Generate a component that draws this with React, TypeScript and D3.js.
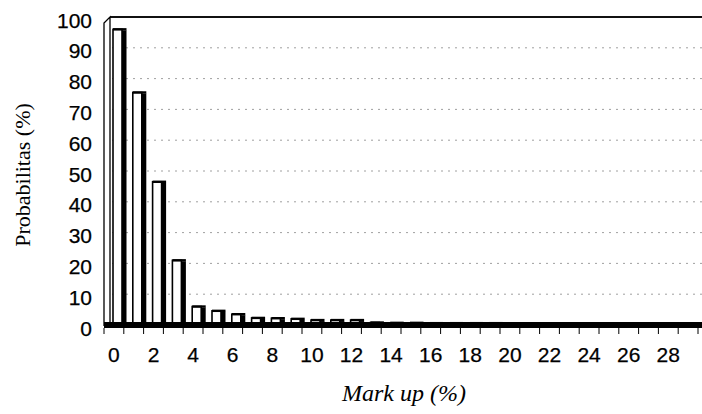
import React from "react";
import * as d3 from "d3";

const categories: number[] = d3.range(0, 30);
const probabilities: number[] = [
  96, 75.5, 46.5, 21, 6, 4.6, 3.5, 2.3, 2.2, 2, 1.6, 1.6, 1.6,
  0.8, 0.7, 0.7, 0.6, 0.6, 0.6, 0.6, 0.5, 0.5, 0.5, 0.5, 0.5, 0.5, 0.5, 0.5, 0.5, 0.5,
];
const yTicks: number[] = [0, 10, 20, 30, 40, 50, 60, 70, 80, 90, 100];
const xTickLabels: number[] = d3.range(0, 30, 2);

const W = 702;
const H = 414;

export default function App() {
  const x = d3.scaleBand<number>().domain(categories).range([104, 698]).paddingInner(0).paddingOuter(0);
  const y = d3.scaleLinear().domain([0, 100]).range([325, 17]);
  const step = x.step();
  const sans = "'Liberation Sans', Arial, sans-serif";
  const serif = "'Liberation Serif', 'Times New Roman', serif";

  return (
    <svg width={W} height={H} style={{ position: "absolute", left: 0, top: 0, background: "#fff" }}>
      <rect x={0} y={0} width={W} height={H} fill="#fff" />
      {/* gridlines */}
      {yTicks.filter((t) => t > 0 && t < 100).map((t) => (
        <line key={"g" + t} x1={112} x2={W} y1={y(t)} y2={y(t)} stroke="#888" strokeWidth={0.8} strokeDasharray="2 5" />
      ))}
      {/* top border */}
      <line x1={110} x2={W} y1={y(100)} y2={y(100)} stroke="#111" strokeWidth={1.8} />
      {/* left wall */}
      <path d={`M104,${y(0) + 1} L104,${y(100) + 6} L110,${y(100)} L110,${y(0) - 3}`} fill="#fff" stroke="#000" strokeWidth={1.3} />
      {/* bars */}
      {categories.map((c, i) => {
        const v = probabilities[i];
        const x0 = x(c)!;
        const top = y(v);
        const bottom = y(0);
        return (
          <g key={"b" + c}>
            <rect x={x0 + 9} y={top} width={9} height={bottom - top} fill="#fff" stroke="#000" strokeWidth={1.6} />
            <rect x={x0 + 18} y={top + 1} width={4.5} height={bottom - top - 1} fill="#000" />
            <line x1={x0 + 9} x2={x0 + 22.5} y1={top} y2={top} stroke="#000" strokeWidth={2.4} />
          </g>
        );
      })}
      {/* floor */}
      <rect x={104} y={y(0) - 3} width={W - 104} height={6} fill="#000" />
      {/* x ticks */}
      {d3.range(0, 31).map((k) => (
        <line key={"t" + k} x1={104 + k * step} x2={104 + k * step} y1={y(0) + 3} y2={y(0) + 9} stroke="#000" strokeWidth={1} />
      ))}
      {/* y labels */}
      {yTicks.map((t) => (
        <text key={"y" + t} x={92} y={y(t) + 3} textAnchor="end" dominantBaseline="central" fontFamily={sans} fontSize={21} fill="#000" stroke="#000" strokeWidth={0.25}>
          {t}
        </text>
      ))}
      {/* x labels */}
      {xTickLabels.map((c) => (
        <text key={"x" + c} x={x(c)! + step / 2} y={354} textAnchor="middle" dominantBaseline="central" fontFamily={sans} fontSize={21} fill="#000" stroke="#000" strokeWidth={0.25}>
          {c}
        </text>
      ))}
      {/* axis titles */}
      <text x={404} y={393} textAnchor="middle" dominantBaseline="central" fontFamily={serif} fontStyle="italic" fontSize={24} fill="#000">
        Mark up (%)
      </text>
      <text transform={`translate(22,175) rotate(-90)`} textAnchor="middle" dominantBaseline="central" fontFamily={serif} fontSize={22} fill="#000">
        Probabilitas (%)
      </text>
    </svg>
  );
}
